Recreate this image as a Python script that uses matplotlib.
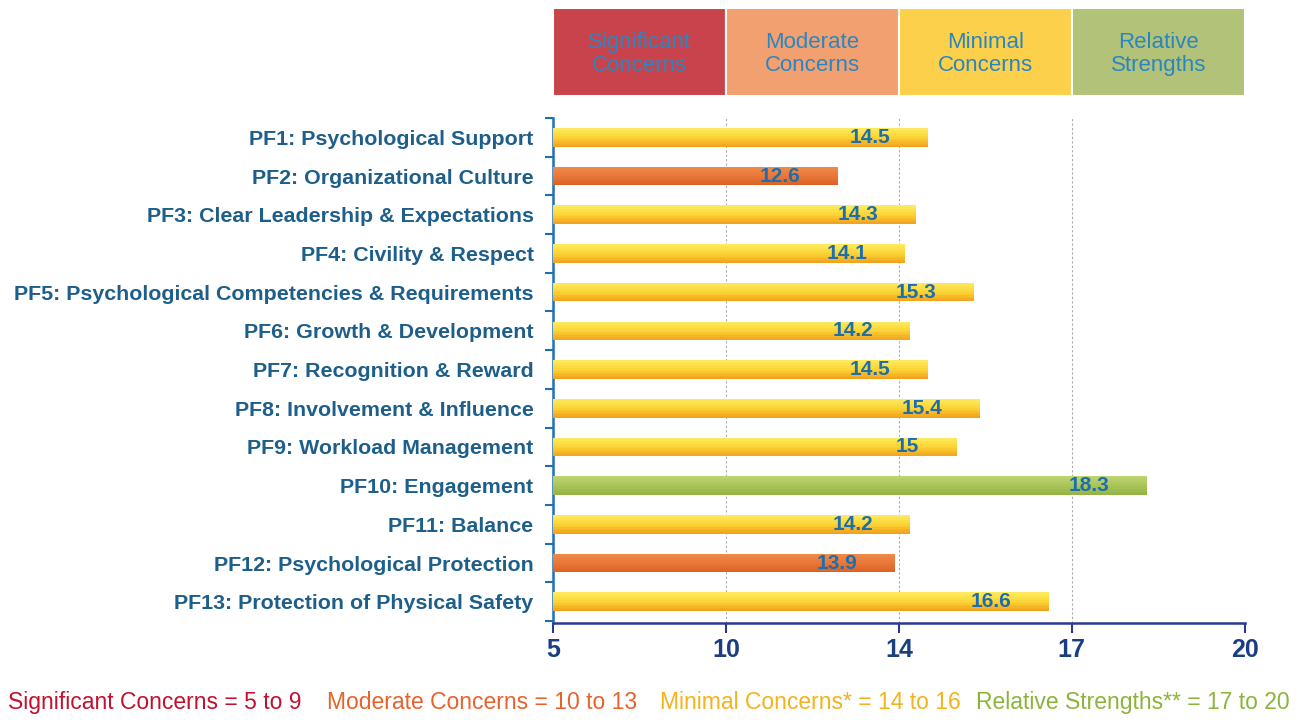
import matplotlib.pyplot as plt
import numpy as np
from matplotlib.colors import LinearSegmentedColormap
from matplotlib.patches import Rectangle
from matplotlib.transforms import blended_transform_factory

# data
factors = [
    "PF1: Psychological Support",
    "PF2: Organizational Culture",
    "PF3: Clear Leadership & Expectations",
    "PF4: Civility & Respect",
    "PF5: Psychological Competencies & Requirements",
    "PF6: Growth & Development",
    "PF7: Recognition & Reward",
    "PF8: Involvement & Influence",
    "PF9: Workload Management",
    "PF10: Engagement",
    "PF11: Balance",
    "PF12: Psychological Protection",
    "PF13: Protection of Physical Safety",
]
scores = [14.5, 12.6, 14.3, 14.1, 15.3, 14.2, 14.5, 15.4, 15.0, 18.3, 14.2, 13.9, 16.6]
score_labels = ["14.5", "12.6", "14.3", "14.1", "15.3", "14.2", "14.5", "15.4", "15",
                "18.3", "14.2", "13.9", "16.6"]
band_edges = [5, 10, 14, 17, 20]
band_names = ["Significant\nConcerns", "Moderate\nConcerns", "Minimal\nConcerns", "Relative\nStrengths"]
legend_texts = ["Significant Concerns = 5 to 9", "Moderate Concerns = 10 to 13",
                "Minimal Concerns* = 14 to 16", "Relative Strengths** = 17 to 20"]

plt.rcParams['font.family'] = ['Liberation Sans', 'DejaVu Sans']

# colours
band_fill = ["#c9434c", "#f2a070", "#fcd04a", "#b2c278"]
legend_colors = ["#c3102f", "#e8622a", "#f4b21c", "#8db43a"]
label_blue = "#1d5f8a"
value_blue = "#1b6fae"
header_blue = "#2a86c0"

# top -> bottom shading of each bar type
grad = {
    'orange': LinearSegmentedColormap.from_list('o', ["#ef8a48", "#e9773a", "#dc6223"]),
    'yellow': LinearSegmentedColormap.from_list('y', ["#fdea5c", "#fcd434", "#f2a41f"]),
    'green': LinearSegmentedColormap.from_list('g', ["#bcd36e", "#a9c45a", "#94b545"]),
}


def bar_kind(v):
    if v < 14:
        return 'orange'
    if v < 17:
        return 'yellow'
    return 'green'


# piecewise linear axis: ticks equally spaced
def fwd(x):
    return np.interp(x, band_edges, [0, 1, 2, 3, 4], left=-1, right=5)


def inv(x):
    return np.interp(x, [0, 1, 2, 3, 4], band_edges, left=0, right=25)


fig = plt.figure(figsize=(12.99, 7.2), dpi=100)
ax = fig.add_axes([0.4257, 0.1347, 0.5326, 0.7014])
ax.set_xscale('function', functions=(fwd, inv))
ax.set_xlim(5, 20)

y = np.arange(len(factors))
bar_h = 0.48
n_slices = 12
slice_h = bar_h / n_slices
for yi, v in zip(y, scores):
    cmap = grad[bar_kind(v)]
    for k in range(n_slices):
        yc = yi - bar_h / 2 + (k + 0.5) * slice_h
        ax.barh(yc, v - 5, left=5, height=slice_h * 1.05, color=cmap(k / (n_slices - 1)),
                linewidth=0, zorder=3)

for yi, v, lab in zip(y, scores, score_labels):
    ax.annotate(lab, xy=(v, yi), xytext=(-27, 0), textcoords='offset points',
                ha='right', va='center', color=value_blue, fontsize=15,
                fontweight='bold', zorder=4)

ax.set_ylim(12.55, -0.47)
ax.set_yticks(y)
ax.set_yticklabels(factors, fontsize=15.4, fontweight='bold', color=label_blue)
ax.set_yticks(np.arange(-0.5, 13, 1), minor=True)
ax.tick_params(axis='y', which='major', length=0, pad=14)
ax.tick_params(axis='y', which='minor', length=6, color="#1f6fb5", width=1.5)

ax.set_xticks(band_edges)
ax.set_xticklabels([str(b) for b in band_edges], fontsize=18, fontweight='bold',
                   color="#1a3f80")
ax.xaxis.set_minor_locator(plt.NullLocator())
ax.tick_params(axis='x', length=7, width=1.5, color="#2b3990", pad=4)

for g in band_edges[1:4]:
    ax.axvline(g, color="#aaaaaa", linestyle=(0, (2, 2)), linewidth=0.8, zorder=1)

for side in ['top', 'right']:
    ax.spines[side].set_visible(False)
ax.spines['left'].set_color("#1f6fb5")
ax.spines['left'].set_linewidth(1.8)
ax.spines['bottom'].set_color("#2b3990")
ax.spines['bottom'].set_linewidth(1.8)

# header boxes
trans = blended_transform_factory(ax.transData, ax.transAxes)
for i, name in enumerate(band_names):
    x0, x1 = band_edges[i], band_edges[i + 1]
    ax.add_patch(Rectangle((x0, 1.0436), x1 - x0, 0.1743, transform=trans,
                           facecolor=band_fill[i], edgecolor="white", linewidth=1.5,
                           clip_on=False))
    xm = inv((fwd(x0) + fwd(x1)) / 2)
    ax.text(xm, 1.1267, name, transform=trans, ha='center', va='center',
            fontsize=16, color=header_blue, linespacing=1.1)

# bottom legend line
xs = [0.006, 0.252, 0.508, 0.751]
for xp, t, c in zip(xs, legend_texts, legend_colors):
    fig.text(xp, 0.024, t, fontsize=16.5, color=c, ha='left', va='center')

fig.savefig("out.png", dpi=100)
